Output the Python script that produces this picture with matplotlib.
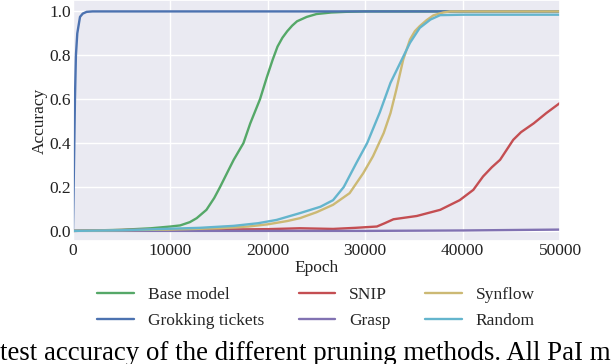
import matplotlib
matplotlib.use("Agg")
import matplotlib.pyplot as plt
import seaborn as sns

# accuracy curves (epoch, accuracy)
base_x = [0, 2000, 5000, 8000, 10000, 11000, 12000, 12700, 13700, 14500, 15100, 16000, 16500, 17500,
          18200, 19200, 19900, 20500, 21000, 21500, 22000, 22500, 23000, 24000, 25000, 26500, 28000,
          30000, 50000]
base_y = [0.0, 0.002, 0.005, 0.012, 0.02, 0.025, 0.04, 0.058, 0.096, 0.15, 0.20, 0.28, 0.324, 0.40,
          0.49, 0.60, 0.70, 0.78, 0.84, 0.88, 0.91, 0.935, 0.955, 0.975, 0.988, 0.995, 0.998,
          1.0, 1.0]

grok_x = [0, 100, 200, 300, 440, 720, 1000, 1400, 2000, 50000]
grok_y = [0.0, 0.3, 0.6, 0.8, 0.9, 0.975, 0.99, 0.998, 1.0, 1.0]

snip_x = [0, 5000, 10000, 15000, 20000, 23300, 26700, 29000, 31200, 32000, 32900, 35300, 37700,
          39700, 41100, 42100, 43000, 43850, 45200, 46000, 47300, 48600, 50000]
snip_y = [0.0, 0.004, 0.006, 0.006, 0.008, 0.012, 0.009, 0.014, 0.02, 0.035, 0.053, 0.068, 0.096,
          0.14, 0.187, 0.248, 0.29, 0.324, 0.415, 0.45, 0.49, 0.537, 0.583]

grasp_x = [0, 10000, 20000, 30000, 40000, 45000, 50000]
grasp_y = [0.0, 0.0, 0.0, 0.0, 0.002, 0.004, 0.006]

syn_x = [0, 5000, 10000, 15000, 18000, 20000, 22000, 23300, 25000, 26700, 28400, 29800, 30800,
         31900, 32600, 33200, 33900, 34600, 35100, 35600, 36300, 37000, 38000, 38700, 50000]
syn_y = [0.0, 0.003, 0.006, 0.012, 0.02, 0.03, 0.045, 0.058, 0.085, 0.119, 0.172, 0.263, 0.34,
         0.446, 0.537, 0.644, 0.78, 0.872, 0.91, 0.933, 0.96, 0.982, 0.995, 1.0, 1.0]

rand_x = [0, 5000, 10000, 13000, 16500, 19000, 20900, 23300, 25400, 26700, 27800, 29100, 30200,
          31500, 32600, 33600, 34600, 35600, 36700, 37700, 40000, 50000]
rand_y = [0.0, 0.003, 0.01, 0.014, 0.023, 0.035, 0.05, 0.081, 0.11, 0.14, 0.20, 0.31, 0.40,
          0.54, 0.675, 0.766, 0.857, 0.925, 0.963, 0.983, 0.985, 0.985]

x_ticks = [0, 10000, 20000, 30000, 40000, 50000]
y_ticks = [0.0, 0.2, 0.4, 0.6, 0.8, 1.0]

sns.set_theme(style="darkgrid")
plt.rcParams['font.family'] = ['Liberation Serif', 'DejaVu Serif']

fig = plt.figure(figsize=(6.16, 3.64), dpi=100)
ax = fig.add_axes([73 / 616, 1 - 241 / 364, 487 / 616, 241 / 364])

lw = 1.7
ax.plot(base_x, base_y, color="#55a868", lw=lw, label="Base model")
ax.plot(grok_x, grok_y, color="#4c72b0", lw=lw, label="Grokking tickets")
ax.plot(snip_x, snip_y, color="#c44e52", lw=lw, label="SNIP")
ax.plot(grasp_x, grasp_y, color="#8172b2", lw=lw, label="Grasp")
ax.plot(syn_x, syn_y, color="#ccb974", lw=lw, label="Synflow")
ax.plot(rand_x, rand_y, color="#64b5cd", lw=lw, label="Random")

ax.set_xlim(0, 50000)
ax.set_ylim(-0.046, 1.052)
ax.set_xticks(x_ticks)
ax.set_yticks(y_ticks)
ax.set_yticklabels([f"{v:.1f}" for v in y_ticks])
ax.tick_params(labelsize=12.5, pad=1.5, length=0, colors="#222222")
ax.set_xlabel("Epoch", fontsize=12.5, labelpad=1, color="#222222")
ax.set_ylabel("Accuracy", fontsize=12.5, labelpad=1, color="#222222")

fig.legend(loc="center", bbox_to_anchor=(316 / 616, 1 - 308 / 364), ncol=3, frameon=False,
           fontsize=12.5, handlelength=2.1, handletextpad=0.8, columnspacing=2.0, labelspacing=0.55)

# caption fragment that shows under the chart, clipped by the picture's edges
fig.text(0.0, 0.011, "test accuracy of the different pruning methods. All PaI m",
         fontsize=19.4, ha="left", va="baseline", color="black")

fig.savefig("out.png", dpi=100)
